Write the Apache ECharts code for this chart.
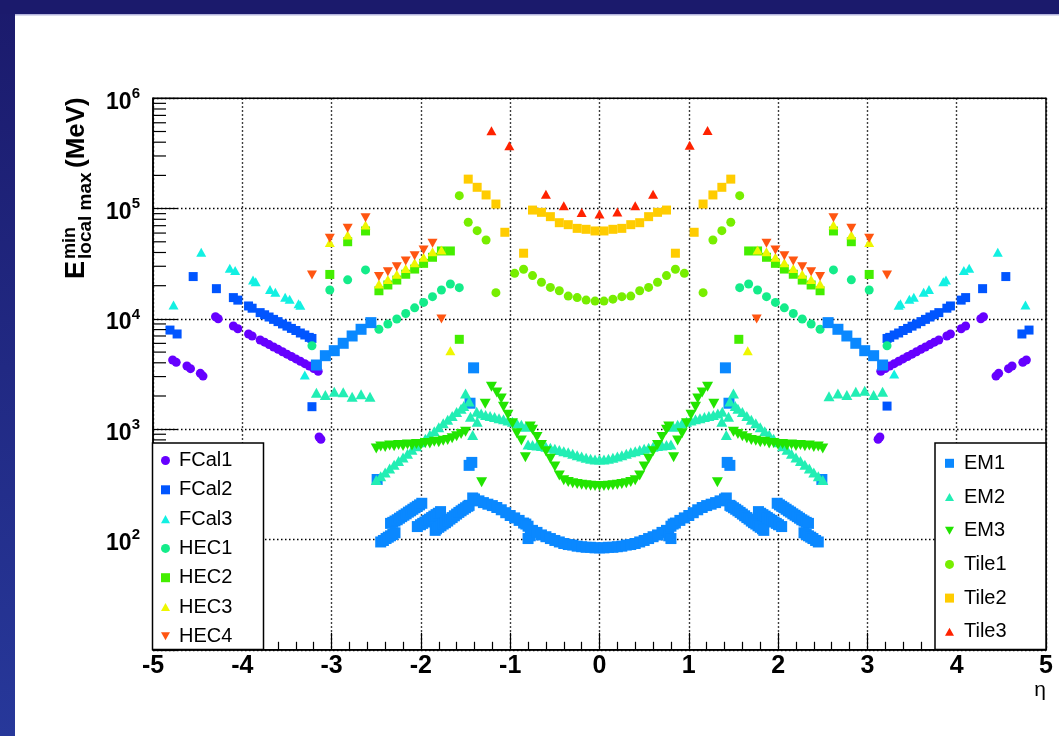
<!DOCTYPE html>
<html>
<head>
<meta charset="utf-8">
<script src="https://cdn.jsdelivr.net/npm/echarts@6/dist/echarts.min.js"></script>
<style>
  html, body { margin: 0; padding: 0; background: #fff; }
  #chart { width: 1059px; height: 736px; }
</style>
</head>
<body>
<div id="chart"></div>
<script>
// Lowest local-maximum energy per calorimeter layer versus pseudorapidity.
// Each series is a list of [eta, E (MeV)] points.

const FCAL1 = [[-4.78,4240],[-4.74,4040],[-4.62,3740],[-4.58,3540],[-4.47,3210],[-4.44,3030],
  [-4.30,10470],[-4.27,10040],[-4.10,8630],[-4.05,8150],[-3.93,7300],[-3.89,7000],
  [-3.80,6440],[-3.75,6150],[-3.70,5850],[-3.65,5560],[-3.60,5300],[-3.55,5040],[-3.50,4790],[-3.45,4560],
  [-3.40,4340],[-3.35,4130],[-3.30,3930],[-3.25,3740],[-3.20,3550],[-3.15,3350],
  [-3.14,850],[-3.12,810],[3.12,810],[3.14,850],
  [3.15,3350],[3.20,3550],[3.25,3740],[3.30,3930],[3.35,4130],[3.40,4340],[3.45,4560],[3.50,4790],
  [3.55,5040],[3.60,5300],[3.65,5560],[3.70,5850],[3.75,6150],[3.80,6440],
  [3.89,7000],[3.93,7300],[4.05,8150],[4.10,8630],[4.27,10040],[4.30,10470],
  [4.44,3030],[4.47,3210],[4.58,3540],[4.62,3740],[4.74,4040],[4.78,4240]];

const FCAL2 = [[-4.81,7920],[-4.73,7300],[-4.55,24200],[-4.29,18800],[-4.10,15600],[-4.05,14800],[-3.93,13100],[-3.89,12500],
  [-3.80,11400],[-3.75,10900],[-3.70,10400],[-3.65,9900],[-3.60,9450],[-3.55,9000],[-3.50,8600],[-3.45,8200],
  [-3.40,7850],[-3.35,7450],[-3.30,7150],[-3.25,6800],[-3.22,6650],
  [-3.22,1600],[3.22,1620],
  [3.22,6650],[3.25,6800],[3.30,7150],[3.35,7450],[3.40,7850],[3.45,8200],[3.50,8600],[3.55,9000],
  [3.60,9450],[3.65,9900],[3.70,10400],[3.75,10900],[3.80,11400],
  [3.89,12500],[3.93,13100],[4.05,14800],[4.10,15600],[4.29,18800],[4.55,24200],[4.73,7300],[4.81,7920]];

const FCAL3 = [[-4.77,13400],[-4.46,40200],[-4.14,28800],[-4.08,27400],[-3.88,22500],[-3.85,21700],[-3.69,18500],
  [-3.63,17400],[-3.52,15700],[-3.47,15100],[-3.37,13700],[-3.35,13300],[-3.30,3100],
  [3.30,3160],[3.35,13300],[3.37,13700],[3.47,15100],[3.52,15700],[3.63,17400],[3.69,18500],[3.85,21700],
  [3.88,22500],[4.08,27400],[4.14,28800],[4.46,40200],[4.77,13400]];

const HEC1 = [[-3.22,5710],[-3.02,18300],[-2.82,22600],[-2.62,27800],[-2.47,8060],[-2.37,9000],[-2.27,9980],
  [-2.17,11200],[-2.07,12600],[-1.97,14100],[-1.87,15900],[-1.77,18300],[-1.67,20700],[-1.57,19200],
  [1.57,19200],[1.67,20700],[1.77,18300],[1.87,15900],[1.97,14100],[2.07,12600],[2.17,11200],[2.27,9980],
  [2.37,9000],[2.47,8060],[2.62,27800],[2.82,22600],[3.02,18300],[3.22,5710]];

const HEC2 = [[-3.02,25300],[-2.82,50100],[-2.62,62700],[-2.47,18000],[-2.37,20300],[-2.27,22500],[-2.17,25400],
  [-2.07,28300],[-1.97,31900],[-1.87,36200],[-1.77,41300],[-1.67,41300],[-1.57,6530],
  [1.56,6530],[1.67,41300],[1.77,41300],[1.87,36200],[1.97,31900],[2.07,28300],[2.17,25400],[2.27,22500],
  [2.37,20300],[2.47,18000],[2.62,62700],[2.82,50100],[3.02,25300]];

const HEC3 = [[-3.02,49400],[-2.82,57600],[-2.62,70900],[-2.47,20700],[-2.37,22800],[-2.27,25400],[-2.17,28700],
  [-2.07,32300],[-1.97,36200],[-1.87,40700],[-1.77,42200],[-1.67,5150],
  [1.66,5150],[1.77,42200],[1.87,40700],[1.97,36200],[2.07,32300],[2.17,28700],[2.27,25400],[2.37,22800],
  [2.47,20700],[2.62,70900],[2.82,57600],[3.02,49400]];

const HEC4 = [[-3.22,25000],[-3.02,53800],[-2.82,66200],[-2.62,82600],[-2.47,24200],[-2.37,26800],[-2.27,29700],
  [-2.17,33500],[-2.07,37400],[-1.97,42200],[-1.87,48400],[-1.77,9980],
  [1.76,9980],[1.87,48400],[1.97,42200],[2.07,37400],[2.17,33500],[2.27,29700],[2.37,26800],[2.47,24200],
  [2.62,82600],[2.82,66200],[3.02,53800],[3.22,25000]];

const EM1 = [
  [-3.17,3820],[-3.07,4640],[-2.97,5150],[-2.87,6010],[-2.77,7000],[-2.67,8050],[-2.56,9250],
  [-2.49,350],
  [-2.45,95],[-2.42,98],[-2.39,102],[-2.365,105],[-2.34,108],[-2.315,111],[-2.29,115],
  [-2.34,140],[-2.315,143],[-2.29,147],[-2.265,151],[-2.24,156],[-2.215,161],[-2.19,166],[-2.165,171],
  [-2.14,177],[-2.115,182],[-2.09,188],[-2.065,194],[-2.04,200],[-2.015,206],[-1.99,213],
  [-2.04,131],[-2.005,136],[-1.98,140],[-1.955,144],[-1.93,149],[-1.905,153],[-1.88,158],[-1.855,163],
  [-1.83,168],[-1.805,173],[-1.78,179],
  [-1.84,121],[-1.825,125],[-1.80,129],[-1.775,133],[-1.75,138],[-1.725,142],[-1.70,147],[-1.675,153],
  [-1.65,158],[-1.625,164],[-1.60,170],[-1.575,176],[-1.55,182],[-1.525,188],[-1.50,194],[-1.475,200],[-1.46,204],
  [-1.46,470],[-1.43,500],[-1.45,1720],[-1.41,3600],
  [-1.42,238],[-1.40,233],[-1.35,224],[-1.30,216],[-1.25,209],[-1.20,203],[-1.15,195],[-1.10,186],[-1.05,175],
  [-1.00,165],[-0.95,157],[-0.90,149],[-0.85,141],[-0.825,138],[-0.80,132],[-0.80,102],[-0.775,108],
  [-0.75,121],[-0.70,116],[-0.65,110],[-0.60,106],[-0.55,102],[-0.50,98],[-0.45,95],[-0.40,92],[-0.35,90],
  [-0.30,89],[-0.25,87],[-0.20,86],[-0.15,85],[-0.10,85],[-0.05,84],
  [0.00,84],[0.05,84],[0.10,85],[0.15,85],[0.20,86],[0.25,87],[0.30,89],[0.35,90],[0.40,92],[0.45,95],
  [0.50,98],[0.55,102],[0.60,106],[0.65,110],[0.70,116],[0.75,121],[0.775,108],[0.80,102],[0.80,132],
  [0.825,138],[0.85,141],[0.90,149],[0.95,157],[1.00,165],[1.05,175],[1.10,186],[1.15,195],[1.20,203],
  [1.25,209],[1.30,216],[1.35,224],[1.40,233],[1.42,238],
  [1.41,3600],[1.45,1720],[1.43,500],[1.46,470],
  [1.46,204],[1.475,200],[1.50,194],[1.525,188],[1.55,182],[1.575,176],[1.60,170],[1.625,164],[1.65,158],
  [1.675,153],[1.70,147],[1.725,142],[1.75,138],[1.775,133],[1.80,129],[1.825,125],[1.84,121],
  [1.78,179],[1.805,173],[1.83,168],[1.855,163],[1.88,158],[1.905,153],[1.93,149],[1.955,144],[1.98,140],
  [2.005,136],[2.04,131],
  [1.99,213],[2.015,206],[2.04,200],[2.065,194],[2.09,188],[2.115,182],[2.14,177],[2.165,171],[2.19,166],
  [2.215,161],[2.24,156],[2.265,151],[2.29,147],[2.315,143],[2.34,140],
  [2.29,115],[2.315,111],[2.34,108],[2.365,105],[2.39,102],[2.42,98],[2.45,95],
  [2.49,350],
  [2.56,9250],[2.67,8050],[2.77,7000],[2.87,6010],[2.97,5150],[3.07,4640],[3.17,3820]];

const EM2 = [
  [-3.17,2140],[-3.07,2040],[-2.97,2190],[-2.87,2160],[-2.77,1970],[-2.67,2070],[-2.57,1970],
  [-2.50,347],[-2.45,375],[-2.40,405],[-2.35,440],[-2.30,475],[-2.25,515],[-2.20,555],[-2.15,600],[-2.10,650],
  [-2.05,700],[-2.00,760],[-1.95,820],[-1.90,890],[-1.85,960],[-1.80,1040],[-1.75,1130],[-1.70,1220],
  [-1.65,1320],[-1.60,1430],[-1.55,1530],[-1.52,1620],
  [-1.50,2110],[-1.46,1780],[-1.445,1300],[-1.42,885],[-1.37,1170],
  [-1.375,1440],[-1.325,1390],[-1.275,1345],[-1.225,1320],[-1.175,1290],[-1.125,1260],[-1.075,1230],
  [-1.025,1200],[-0.975,1170],[-0.925,1135],[-0.875,1100],[-0.825,1050],
  [-0.80,725],[-0.75,718],[-0.70,710],[-0.65,703],[-0.60,695],[-0.55,680],[-0.50,665],[-0.45,648],[-0.40,632],
  [-0.35,618],[-0.30,600],[-0.25,582],[-0.20,565],[-0.15,550],[-0.10,540],[-0.05,532],
  [0.00,530],[0.05,532],[0.10,540],[0.15,550],[0.20,565],[0.25,582],[0.30,600],[0.35,618],[0.40,632],
  [0.45,648],[0.50,665],[0.55,680],[0.60,695],[0.65,703],[0.70,710],[0.75,718],[0.80,725],
  [0.825,1050],[0.875,1100],[0.925,1135],[0.975,1170],[1.025,1200],[1.075,1230],[1.125,1260],[1.175,1290],
  [1.225,1320],[1.275,1345],[1.325,1390],[1.375,1440],
  [1.37,1170],[1.42,885],[1.445,1300],[1.46,1780],[1.50,2110],
  [1.52,1620],[1.55,1530],[1.60,1430],[1.65,1320],[1.70,1220],[1.75,1130],[1.80,1040],[1.85,960],[1.90,890],
  [1.95,820],[2.00,760],[2.05,700],[2.10,650],[2.15,600],[2.20,555],[2.25,515],[2.30,475],[2.35,440],
  [2.40,405],[2.45,375],[2.50,347],
  [2.57,1990],[2.67,2110],[2.77,2040],[2.87,2190],[2.97,2230],[3.07,2040],[3.17,2190]];

const EM3 = [
  [-2.50,670],[-2.45,698],[-2.40,690],[-2.35,712],[-2.30,700],[-2.25,720],[-2.20,705],[-2.15,728],[-2.10,712],
  [-2.05,735],[-2.00,722],[-1.95,748],[-1.90,740],[-1.85,770],[-1.80,760],[-1.75,785],[-1.70,800],[-1.65,830],
  [-1.60,865],[-1.55,905],[-1.50,950],
  [-1.32,330],[-1.28,1700],[-1.21,2430],[-1.15,2150],[-1.10,1900],[-1.075,1600],[-1.025,1350],[-0.975,1130],
  [-0.925,920],[-0.875,790],[-0.83,556],[-0.775,1060],[-0.75,990],[-0.70,850],[-0.65,720],[-0.60,630],
  [-0.55,540],[-0.50,460],[-0.45,380],[-0.40,345],[-0.35,332],[-0.30,324],[-0.25,318],[-0.20,314],
  [-0.15,310],[-0.10,307],[-0.05,305],
  [0.00,305],[0.05,305],[0.10,307],[0.15,310],[0.20,314],[0.25,318],[0.30,324],[0.35,332],[0.40,345],
  [0.45,380],[0.50,460],[0.55,540],[0.60,630],[0.65,720],[0.70,850],[0.75,990],[0.775,1060],[0.83,556],
  [0.875,790],[0.925,920],[0.975,1130],[1.025,1350],[1.075,1600],[1.10,1900],[1.15,2150],[1.21,2430],
  [1.28,1700],[1.32,330],
  [1.50,950],[1.55,905],[1.60,865],[1.65,830],[1.70,800],[1.75,785],[1.80,760],[1.85,770],[1.90,740],
  [1.95,748],[2.00,722],[2.05,735],[2.10,712],[2.15,728],[2.20,705],[2.25,720],[2.30,700],[2.35,712],
  [2.40,690],[2.45,698],[2.50,670]];

const TILE1 = [[-1.57,131000],[-1.47,75200],[-1.37,63100],[-1.27,51900],[-1.16,17300],[-0.95,25900],[-0.85,28200],
  [-0.75,24700],[-0.65,21500],[-0.55,19300],[-0.45,18000],[-0.35,16100],[-0.25,15600],[-0.15,14800],[-0.05,14500],
  [0.05,14500],[0.15,15100],[0.25,15900],[0.35,16100],[0.45,18000],[0.55,19300],[0.65,21500],[0.75,24700],
  [0.85,28200],[0.95,25900],[1.16,17300],[1.27,51900],[1.37,63100],[1.47,75200],[1.57,131000]];

const TILE2 = [[-1.47,185000],[-1.37,156000],[-1.27,133000],[-1.16,110000],[-1.06,61000],[-0.85,39400],
  [-0.75,97000],[-0.65,92500],[-0.55,84500],[-0.45,74500],[-0.35,71500],[-0.25,66200],[-0.15,64900],[-0.05,62700],
  [0.05,62700],[0.15,64900],[0.25,66200],[0.35,71500],[0.45,74500],[0.55,84500],[0.65,92500],[0.75,97000],
  [0.85,39400],[1.06,61000],[1.16,110000],[1.27,133000],[1.37,156000],[1.47,185000]];

const TILE3 = [[-1.21,508000],[-1.01,371000],[-0.60,135000],[-0.40,106000],[-0.20,92000],[0.00,89500],
  [0.20,93000],[0.40,106000],[0.60,135000],[1.01,375000],[1.21,510000]];

const LEFT_LEGEND = ['FCal1', 'FCal2', 'FCal3', 'HEC1', 'HEC2', 'HEC3', 'HEC4'];
const RIGHT_LEGEND = ['EM1', 'EM2', 'EM3', 'Tile1', 'Tile2', 'Tile3'];
const Y_DECADES = [1, 2, 3, 4, 5, 6];
const Y_MINOR_STEPS = [2, 3, 4, 5, 6, 7, 8, 9];
const X_RANGE = [-5, 5];

const FONT = '"Liberation Sans", Arial, Helvetica, sans-serif';
const UP = 'path://M5,0L10,9L0,9Z';
const DOWN = 'path://M0,0L10,0L5,9Z';

function scatter(name, data, symbol, color, size) {
  return {
    name: name, type: 'scatter', data: data, symbol: symbol, symbolSize: size,
    symbolKeepAspect: false,
    itemStyle: { color: color, opacity: 1 },
    emphasis: { disabled: true }, silent: true, z: 2
  };
}

const series = [
  scatter('FCal1', FCAL1, 'circle', '#6600ff', 9),
  scatter('FCal2', FCAL2, 'rect', '#0055ff', 9),
  scatter('FCal3', FCAL3, UP, '#12f0e2', [10, 9]),
  scatter('HEC1', HEC1, 'circle', '#14ec8a', 9),
  scatter('HEC2', HEC2, 'rect', '#44ee00', 9),
  scatter('HEC3', HEC3, UP, '#eef700', [10, 9]),
  scatter('HEC4', HEC4, DOWN, '#ff5511', [10, 9]),
  scatter('EM1', EM1, 'rect', '#0a88ff', 11),
  scatter('EM2', EM2, UP, '#22eeb4', [11, 10]),
  scatter('EM3', EM3, DOWN, '#22e400', [11, 10]),
  scatter('Tile1', TILE1, 'circle', '#77ee00', 9),
  scatter('Tile2', TILE2, 'rect', '#ffcc00', 9),
  scatter('Tile3', TILE3, UP, '#ff2200', [10, 9])
];

// Log-axis minor ticks (2..9 x 10^k), drawn inward from the left axis.
const minorTickData = [];
Y_DECADES.slice(0, -1).forEach(function (d) {
  Y_MINOR_STEPS.forEach(function (m) { minorTickData.push([X_RANGE[0], m * Math.pow(10, d)]); });
});
series.push({
  type: 'custom', name: 'yMinorTicks', silent: true, clip: false, z: 3,
  data: minorTickData,
  encode: { x: 0, y: 1 },
  renderItem: function (params, api) {
    const p = api.coord([api.value(0), api.value(1)]);
    return {
      type: 'line',
      shape: { x1: p[0], y1: p[1], x2: p[0] + 13, y2: p[1] },
      style: { stroke: '#000', lineWidth: 1.2 }
    };
  }
});

const legendBase = {
  orient: 'vertical', selectedMode: false, padding: 0, z: 6,
  itemWidth: 9, itemHeight: 9,
  textStyle: { fontFamily: FONT, fontSize: 20, color: '#000', lineHeight: 20 }
};

const chart = echarts.init(document.getElementById('chart'), null, { renderer: 'canvas' });
chart.setOption({
  animation: false,
  backgroundColor: '#ffffff',
  grid: { left: 153, right: 13, top: 98.3, bottom: 86.2, show: true, borderColor: '#000', borderWidth: 1.5, backgroundColor: 'transparent' },
  xAxis: {
    type: 'value', min: X_RANGE[0], max: X_RANGE[1], interval: 1,
    axisLine: { show: true, onZero: false, lineStyle: { color: '#000', width: 1.5 } },
    axisTick: { show: true, inside: true, length: 17, lineStyle: { color: '#000', width: 1.2 } },
    minorTick: { show: true, splitNumber: 5, length: 8, lineStyle: { color: '#000', width: 1.2 } },
    splitLine: { show: true, lineStyle: { color: '#000', width: 1.4, type: [1.5, 2.5] } },
    axisLabel: {
      show: true, margin: 3, showMinLabel: true, showMaxLabel: true,
      fontFamily: FONT, fontSize: 25, fontWeight: 'bold', color: '#000', lineHeight: 26
    }
  },
  yAxis: {
    type: 'log', logBase: 10, min: 10, max: 1e6, splitNumber: 5,
    axisLine: { show: true, onZero: false, lineStyle: { color: '#000', width: 1.5 } },
    axisTick: { show: true, inside: true, length: 24, lineStyle: { color: '#000', width: 1.2 } },
    splitLine: { show: true, lineStyle: { color: '#000', width: 1.4, type: [1.5, 2.5] } },
    axisLabel: {
      show: true, margin: 13,
      formatter: function (v) {
        const e = Math.round(Math.log10(v));
        return e === Y_DECADES[0] ? '' : '{b|10}{s|' + e + '}';
      },
      rich: {
        b: { fontFamily: FONT, fontSize: 23, fontWeight: 'bold', color: '#000', lineHeight: 24, padding: [8, 0, 0, 0] },
        s: { fontFamily: FONT, fontSize: 15, fontWeight: 'bold', color: '#000', lineHeight: 16, verticalAlign: 'top' }
      }
    }
  },
  legend: [
    Object.assign({}, legendBase, {
      data: LEFT_LEGEND, left: 161, top: 450.5, itemGap: 9.3,
      textStyle: Object.assign({}, legendBase.textStyle, { padding: [0, 0, 0, 4] })
    }),
    Object.assign({}, legendBase, {
      data: RIGHT_LEGEND, left: 945, top: 453.3, itemGap: 13.7,
      textStyle: Object.assign({}, legendBase.textStyle, { padding: [0, 0, 0, 5] })
    })
  ],
  graphic: [
    { type: 'rect', z: 20, silent: true, shape: { x: 0, y: 0, width: 15, height: 736 },
      style: { fill: new echarts.graphic.LinearGradient(0, 0, 0, 1, [
        { offset: 0, color: '#1b1a6c' }, { offset: 1, color: '#27389a' }]) } },
    { type: 'rect', z: 20, silent: true, shape: { x: 0, y: 0, width: 1059, height: 14 }, style: { fill: '#1b1a6c' } },
    { type: 'rect', z: 20, silent: true, shape: { x: 15, y: 14, width: 1044, height: 1.5 }, style: { fill: '#b4b4dc' } },
    { type: 'rect', z: 5, silent: true, shape: { x: 152.5, y: 443, width: 111, height: 206.5 },
      style: { fill: '#fff', stroke: '#000', lineWidth: 1.5 } },
    { type: 'rect', z: 5, silent: true, shape: { x: 935, y: 443, width: 111, height: 206.5 },
      style: { fill: '#fff', stroke: '#000', lineWidth: 1.5 } },
    { type: 'group', x: 77, y: 279, rotation: Math.PI / 2, silent: true, children: [
      { type: 'text', x: 0, y: 0, style: { text: 'E', font: 'bold 27px ' + FONT, fill: '#000', verticalAlign: 'middle', align: 'left' } },
      { type: 'text', x: 20, y: -7, style: { text: 'min', font: 'bold 18px ' + FONT, fill: '#000', verticalAlign: 'middle', align: 'left' } },
      { type: 'text', x: 20, y: 9, style: { text: 'local max', font: 'bold 19px ' + FONT, fill: '#000', verticalAlign: 'middle', align: 'left' } },
      { type: 'text', x: 111, y: 0, style: { text: '(MeV)', font: 'bold 26px ' + FONT, fill: '#000', verticalAlign: 'middle', align: 'left' } }
    ] },
    { type: 'text', x: 1040, y: 690, silent: true,
      style: { text: 'η', font: '21px ' + FONT, fill: '#000', verticalAlign: 'middle', align: 'center' } }
  ],
  series: series
});
</script>
</body>
</html>
